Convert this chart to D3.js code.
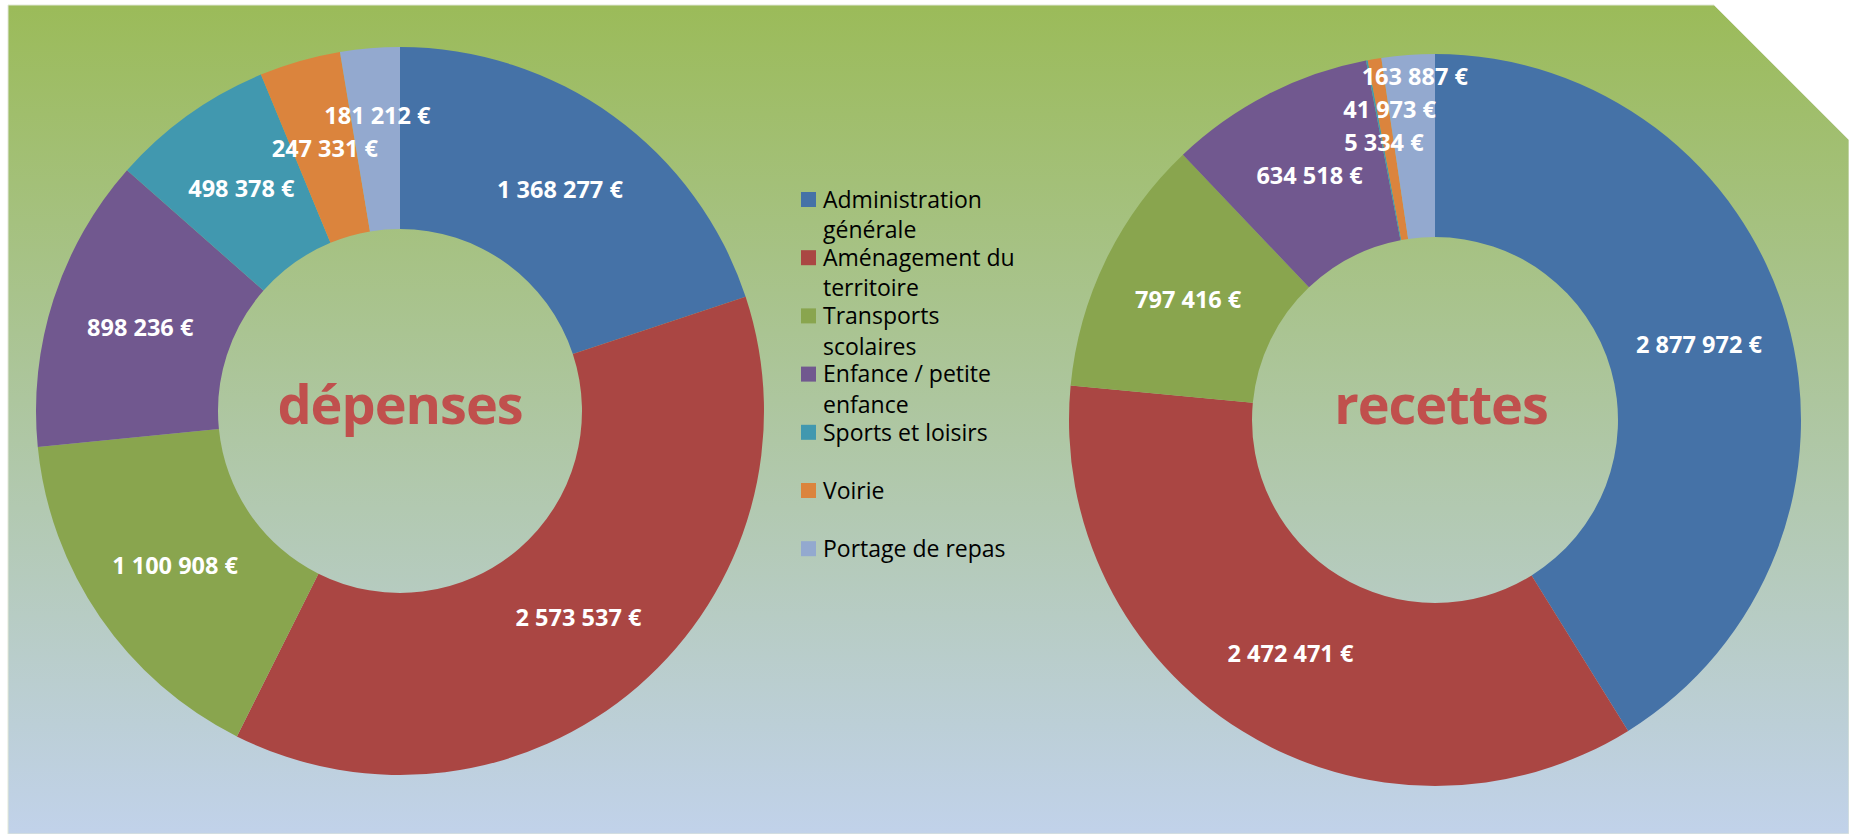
<!DOCTYPE html>
<html>
<head>
<meta charset="utf-8">
<script src="https://cdn.jsdelivr.net/npm/d3@7"></script>
<style>
body { margin: 0; background: #fff; }
</style>
</head>
<body>
<div class="content"></div>
<script>
////////// data /////////
var categories = ['Administration générale', 'Aménagement du territoire', 'Transports scolaires',
  'Enfance / petite enfance', 'Sports et loisirs', 'Voirie', 'Portage de repas'];
var depenses = [1368277, 2573537, 1100908, 898236, 498378, 247331, 181212];
var recettes = [2877972, 2472471, 797416, 634518, 5334, 41973, 163887];
var titles = ['dépenses', 'recettes'];
var colors = ['#4572A7', '#AA4643', '#89A54E', '#71588F', '#4198AF', '#DB843D', '#93A9CF'];

var fr = d3.formatLocale({decimal: ',', thousands: '\u00a0', grouping: [3], currency: ['', ' €']});
var fmt = fr.format(',d');

////////// canvas /////////
var svg = d3.select('.content').append('svg')
  .attr('width', 1849)
  .attr('height', 834);

// green to blue background, top right corner cut
var grad = svg.append('defs').append('linearGradient')
  .attr('id', 'bg')
  .attr('x1', 0).attr('y1', 0)
  .attr('x2', 0).attr('y2', 1);
grad.append('stop').attr('offset', '0%').attr('stop-color', '#9BBB59');
grad.append('stop').attr('offset', '100%').attr('stop-color', '#C1D2EA');

svg.append('path')
  .attr('d', 'M8,5 H1714 L1849,140 V834 H8 Z')
  .style('fill', 'url(#bg)')
  .style('stroke', '#e2e8d8')
  .style('stroke-width', 1);

////////// donuts /////////
function donut(values, cx, cy, rOut, rIn, title, tx) {
  var g = svg.append('g')
    .attr('transform', 'translate(' + cx + ',' + cy + ')');

  var arcs = d3.pie().sort(null)(values);
  var arc = d3.arc().innerRadius(rIn).outerRadius(rOut);

  g.selectAll('path.slice')
    .data(arcs)
    .enter().append('path')
    .attr('class', 'slice')
    .attr('d', arc)
    .style('fill', function(d, i) { return colors[i]; });

  var labels = g.selectAll('text.value')
    .data(arcs)
    .enter().append('text')
    .attr('class', 'value')
    .attr('x', function(d) { return arc.centroid(d)[0]; })
    .attr('y', function(d) { return arc.centroid(d)[1]; })
    .attr('dy', '0.36em')
    .attr('text-anchor', 'middle')
    .style('font-family', '"Open Sans", sans-serif')
    .style('font-weight', 'bold')
    .style('font-size', '23.5px')
    .style('fill', '#fff')
    .text(function(d) { return fmt(d.value) + ' €'; });

  // small slices: push colliding labels upwards
  var step = 33, placed = [];
  labels.each(function() {
    var el = d3.select(this);
    var w = this.getComputedTextLength();
    var x = +el.attr('x'), y = +el.attr('y');
    var moved = true;
    while (moved) {
      moved = false;
      placed.forEach(function(p) {
        if (Math.abs(p.x - x) < (p.w + w) / 2 && Math.abs(p.y - y) < step - 0.01) {
          y = p.y - step;
          moved = true;
        }
      });
    }
    el.attr('y', y);
    placed.push({x: x, y: y, w: w});
  });

  g.append('text')
    .attr('x', tx)
    .attr('y', 424 - cy)
    .attr('text-anchor', 'middle')
    .style('font-family', '"Open Sans", sans-serif')
    .style('font-weight', 'bold')
    .style('font-size', '54px')
    .style('letter-spacing', '-1px')
    .style('fill', '#C0504D')
    .text(title);
}

donut(depenses, 400, 411, 364, 182, titles[0], 0);
donut(recettes, 1435, 420, 366, 183, titles[1], 6);

////////// legend /////////
var legend = svg.append('g')
  .attr('transform', 'translate(801, 199.5)');

var item = legend.selectAll('g.item')
  .data(categories)
  .enter().append('g')
  .attr('class', 'item')
  .attr('transform', function(d, i) { return 'translate(0,' + (i * 58.2) + ')'; });

item.append('rect')
  .attr('x', 0)
  .attr('y', -7.5)
  .attr('width', 15)
  .attr('height', 15)
  .style('fill', function(d, i) { return colors[i]; });

item.append('text')
  .attr('x', 22)
  .attr('y', 0)
  .style('font-family', '"Open Sans", sans-serif')
  .style('font-size', '23px')
  .style('fill', '#000')
  .each(function(d) {
    // wrap on words, max width 210
    var text = d3.select(this), words = d.split(' '), line = [];
    var tspan = text.append('tspan').attr('x', 22).attr('dy', '0.36em');
    words.forEach(function(word) {
      line.push(word);
      tspan.text(line.join(' '));
      if (tspan.node().getComputedTextLength() > 210 && line.length > 1) {
        line.pop();
        tspan.text(line.join(' '));
        line = [word];
        tspan = text.append('tspan').attr('x', 22).attr('dy', '30.5px').text(word);
      }
    });
  });
</script>
</body>
</html>
